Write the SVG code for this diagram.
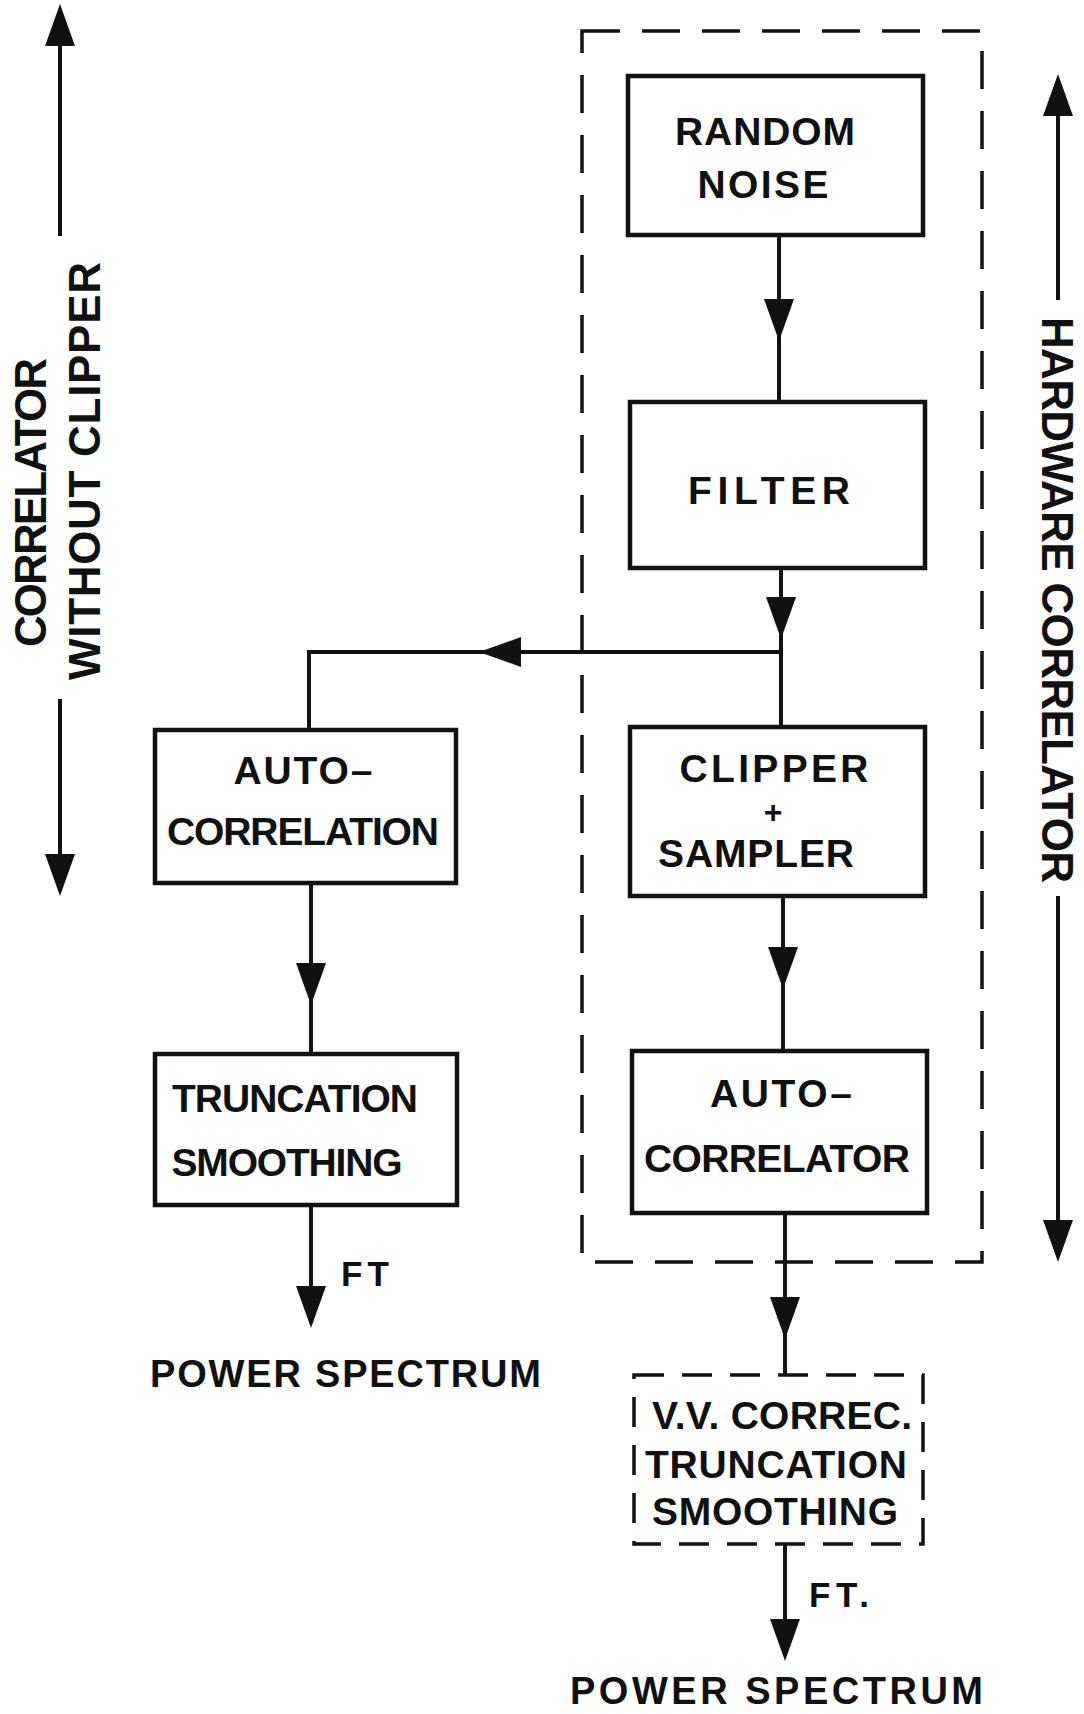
<svg xmlns="http://www.w3.org/2000/svg" xmlns:xlink="http://www.w3.org/1999/xlink" width="1084" height="1714" viewBox="0 0 1084 1714">
<style>
.bg{fill:#fff}
.box{fill:none;stroke:#111;stroke-width:4.5}
.dbox{fill:none;stroke:#111;stroke-width:3.5;stroke-dasharray:38 22}
.ln{fill:none;stroke:#111;stroke-width:4}
.ah{fill:#111}
.t{font-family:"Liberation Sans",Arial,sans-serif;font-weight:bold;font-size:39px;fill:#111}
.ts{font-family:"Liberation Sans",Arial,sans-serif;font-weight:bold;font-size:38px;fill:#111}
.tf{font-family:"Liberation Sans",Arial,sans-serif;font-weight:bold;font-size:35px;fill:#111}
.tr{font-family:"Liberation Sans",Arial,sans-serif;font-weight:bold;font-size:44px;fill:#111}
</style>
<defs>
<polygon id="ahd" class="ah" points="-15,-42 15,-42 0,0"/>
</defs>
<rect class="bg" x="0" y="0" width="1084" height="1714"/>

<g id="side-left">
<line class="ln" x1="60" y1="30" x2="60" y2="236"/>
<use xlink:href="#ahd" transform="translate(60,4) rotate(180)"/>
<line class="ln" x1="60" y1="699" x2="60" y2="870"/>
<use xlink:href="#ahd" transform="translate(60,896)"/>
<text class="tr" transform="translate(46,647) rotate(-90)" textLength="289" lengthAdjust="spacing">CORRELATOR</text>
<text class="tr" transform="translate(100,680) rotate(-90)" textLength="418" lengthAdjust="spacing">WITHOUT  CLIPPER</text>
</g>

<g id="side-right">
<line class="ln" x1="1058" y1="100" x2="1058" y2="300"/>
<use xlink:href="#ahd" transform="translate(1058,74) rotate(180)"/>
<line class="ln" x1="1058" y1="896" x2="1058" y2="1236"/>
<use xlink:href="#ahd" transform="translate(1058,1262)"/>
<text class="tr" transform="translate(1042,317) rotate(90)" textLength="566" lengthAdjust="spacing">HARDWARE  CORRELATOR</text>
</g>

<g id="hardware-group">
<rect class="dbox" x="582" y="31" width="400" height="1231"/>
</g>

<g id="connectors">
<line class="ln" x1="779" y1="235" x2="779" y2="402"/>
<use xlink:href="#ahd" x="779" y="341"/>
<line class="ln" x1="781" y1="568" x2="781" y2="727"/>
<use xlink:href="#ahd" x="781" y="639"/>
<polyline class="ln" points="781,652 309,652 309,730"/>
<use xlink:href="#ahd" transform="translate(479,652) rotate(90)"/>
<line class="ln" x1="783" y1="896" x2="783" y2="1051"/>
<use xlink:href="#ahd" x="783" y="989"/>
<line class="ln" x1="785" y1="1213" x2="785" y2="1375"/>
<use xlink:href="#ahd" x="785" y="1339"/>
<line class="ln" x1="785" y1="1544" x2="785" y2="1640"/>
<use xlink:href="#ahd" x="785" y="1661"/>
<line class="ln" x1="311" y1="883" x2="311" y2="1054"/>
<use xlink:href="#ahd" x="311" y="1005"/>
<line class="ln" x1="311" y1="1205" x2="311" y2="1305"/>
<use xlink:href="#ahd" x="311" y="1328"/>
<text class="tf" x="341" y="1286" textLength="48" lengthAdjust="spacing">FT</text>
<text class="tf" x="809" y="1607" textLength="60" lengthAdjust="spacing">FT.</text>
</g>

<g id="random-noise">
<rect class="box" x="628" y="76" width="295" height="159"/>
<text class="t" x="765" y="145" text-anchor="middle" textLength="180" lengthAdjust="spacing">RANDOM</text>
<text class="t" x="763" y="198" text-anchor="middle" textLength="131" lengthAdjust="spacing">NOISE</text>
</g>

<g id="filter">
<rect class="box" x="630" y="402" width="295" height="166"/>
<text class="t" x="769" y="504" text-anchor="middle" textLength="162" lengthAdjust="spacing">FILTER</text>
</g>

<g id="clipper-sampler">
<rect class="box" x="630" y="727" width="295" height="169"/>
<text class="t" x="774" y="782" text-anchor="middle" textLength="189" lengthAdjust="spacing">CLIPPER</text>
<text class="t" x="773" y="823" text-anchor="middle" style="font-size:32px">+</text>
<text class="t" x="756" y="867" text-anchor="middle" textLength="196" lengthAdjust="spacing">SAMPLER</text>
</g>

<g id="auto-correlator">
<rect class="box" x="632" y="1051" width="295" height="162"/>
<text class="t" x="781" y="1107" text-anchor="middle" textLength="142" lengthAdjust="spacing">AUTO–</text>
<text class="t" x="777" y="1172" text-anchor="middle" textLength="266" lengthAdjust="spacing">CORRELATOR</text>
</g>

<g id="vv-correction">
<rect class="dbox" x="634" y="1375" width="289" height="169" style="stroke-dasharray:30 18"/>
<text class="t" x="782" y="1429" text-anchor="middle" textLength="260" lengthAdjust="spacing">V.V. CORREC.</text>
<text class="t" x="776" y="1478" text-anchor="middle" textLength="262" lengthAdjust="spacing">TRUNCATION</text>
<text class="t" x="775" y="1525" text-anchor="middle" textLength="246" lengthAdjust="spacing">SMOOTHING</text>
</g>

<g id="power-spectrum-right">
<text class="ts" x="570" y="1704" textLength="413" lengthAdjust="spacing">POWER  SPECTRUM</text>
</g>

<g id="auto-correlation">
<rect class="box" x="155" y="730" width="301" height="153"/>
<text class="t" x="303" y="784" text-anchor="middle" textLength="139" lengthAdjust="spacing">AUTO–</text>
<text class="t" x="303" y="845" text-anchor="middle" textLength="272" lengthAdjust="spacing">CORRELATION</text>
</g>

<g id="truncation-smoothing">
<rect class="box" x="155" y="1054" width="302" height="151"/>
<text class="t" x="295" y="1112" text-anchor="middle" textLength="246" lengthAdjust="spacing">TRUNCATION</text>
<text class="t" x="287" y="1176" text-anchor="middle" textLength="231" lengthAdjust="spacing">SMOOTHING</text>
</g>

<g id="power-spectrum-left">
<text class="ts" x="150" y="1387" textLength="391" lengthAdjust="spacing">POWER  SPECTRUM</text>
</g>
</svg>
